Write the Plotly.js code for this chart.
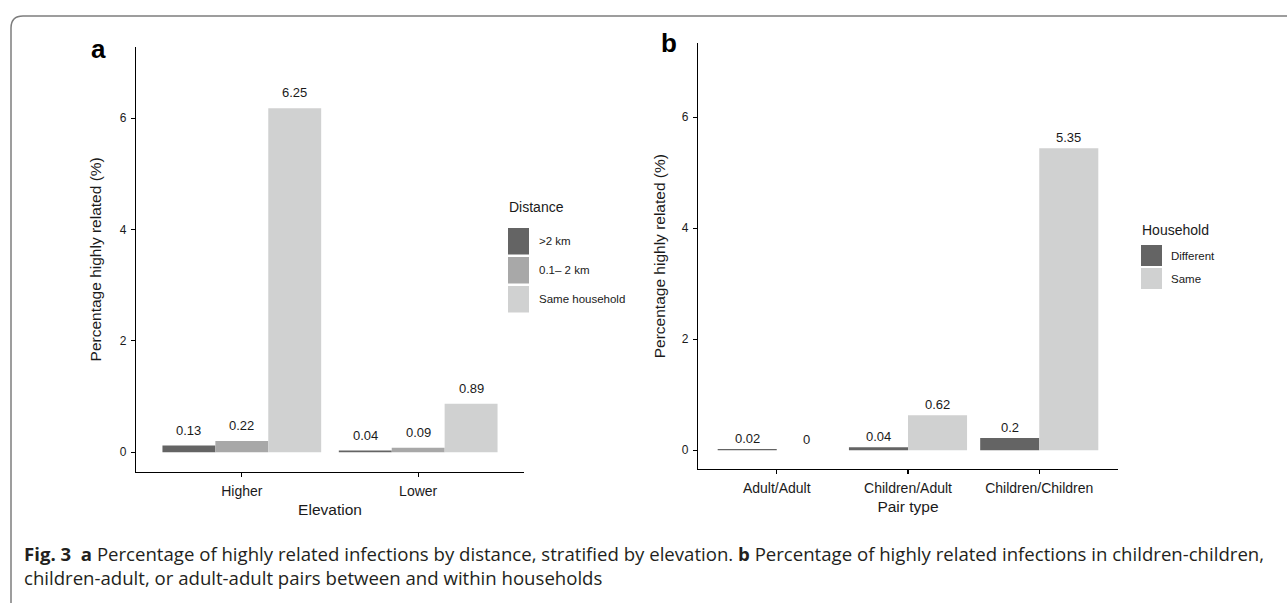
<!DOCTYPE html>
<html>
<head>
<meta charset="utf-8">
<script src="https://cdn.plot.ly/plotly-3.0.1.min.js"></script>
<style>
html,body{margin:0;padding:0;background:#fff;}
#chart{width:1287px;height:603px;}
</style>
</head>
<body>
<div id="chart"></div>
<script>
// ---------- data ----------
const elevationCats = ['Higher', 'Lower'];
const distanceNames = ['>2 km', '0.1\u2013 2 km', 'Same household'];
const farValues = [0.12, 0.03];
const midValues = [0.20, 0.08];
const sameHhValues = [6.18, 0.87];
const farLabels = ['0.13', '0.04'];
const midLabels = ['0.22', '0.09'];
const sameHhLabels = ['6.25', '0.89'];

const pairCats = ['Adult/Adult', 'Children/Adult', 'Children/Children'];
const householdNames = ['Different', 'Same'];
const differentValues = [0.02, 0.05, 0.22];
const sameValues = [0, 0.63, 5.44];
const differentLabels = ['0.02', '0.04', '0.2'];
const sameLabels = ['0', '0.62', '5.35'];

const yTicks = [0, 2, 4, 6];

// ---------- style ----------
const W = 1287, H = 603;
const fx = p => p / W;
const fy = p => 1 - p / H;
const FONT = '"Liberation Sans", Arial, Helvetica, sans-serif';
const colA = ['#646464', '#a8a8a8', '#d0d1d1'];
const colB = ['#646464', '#d0d1d1'];
const textCol = '#1a1a1a';

const seriesA = [farValues, midValues, sameHhValues];
const labelsA = [farLabels, midLabels, sameHhLabels];
const seriesB = [differentValues, sameValues];
const labelsB = [differentLabels, sameLabels];

const traces = [];
seriesA.forEach((vals, i) => {
  traces.push({type: 'bar', x: elevationCats, y: vals, name: distanceNames[i],
    marker: {color: colA[i], line: {width: 0}}, xaxis: 'x', yaxis: 'y',
    showlegend: false, hoverinfo: 'skip'});
});
seriesB.forEach((vals, i) => {
  traces.push({type: 'bar', x: pairCats, y: vals, name: householdNames[i],
    marker: {color: colB[i], line: {width: 0}}, xaxis: 'x2', yaxis: 'y2',
    showlegend: false, hoverinfo: 'skip'});
});

const annotations = [];
// value labels panel a
seriesA.forEach((vals, i) => {
  vals.forEach((v, j) => {
    annotations.push({xref: 'x', yref: 'y', x: j + (i - 1) * 0.3, y: v,
      text: labelsA[i][j], showarrow: false, yanchor: 'middle', yshift: 15.5,
      font: {family: FONT, size: 13, color: textCol}});
  });
});
// value labels panel b
seriesB.forEach((vals, i) => {
  vals.forEach((v, j) => {
    annotations.push({xref: 'x2', yref: 'y2', x: j + (i - 0.5) * 0.45, y: v,
      text: labelsB[i][j], showarrow: false, yanchor: 'middle', yshift: 10.5,
      font: {family: FONT, size: 13, color: textCol}});
  });
});
// panel letters
annotations.push({xref: 'paper', yref: 'paper', x: fx(98), y: fy(49), text: '<b>a</b>',
  showarrow: false, xanchor: 'center', yanchor: 'middle', font: {family: FONT, size: 26, color: '#000'}});
annotations.push({xref: 'paper', yref: 'paper', x: fx(669), y: fy(43), text: '<b>b</b>',
  showarrow: false, xanchor: 'center', yanchor: 'middle', font: {family: FONT, size: 26, color: '#000'}});

const shapes = [];
// custom legends
function legend(title, names, cols, x0, titleY, keyTops, keyH, keyW, labelX) {
  annotations.push({xref: 'paper', yref: 'paper', x: fx(x0 - 1), y: fy(titleY), text: title,
    showarrow: false, xanchor: 'left', yanchor: 'middle', font: {family: FONT, size: 14, color: textCol}});
  names.forEach((n, i) => {
    const t = keyTops[i];
    shapes.push({type: 'rect', xref: 'paper', yref: 'paper', x0: fx(x0), x1: fx(x0 + keyW),
      y0: fy(t + keyH), y1: fy(t), fillcolor: cols[i], line: {width: 0}});
    annotations.push({xref: 'paper', yref: 'paper', x: fx(labelX - 1), y: fy(t + keyH / 2), text: n.replace('>', '&gt;'),
      showarrow: false, xanchor: 'left', yanchor: 'middle', font: {family: FONT, size: 11.5, color: textCol}});
  });
}
legend('Distance', distanceNames, colA, 508, 207, [228, 257, 286], 26.5, 21, 538);
legend('Household', householdNames, colB, 1141, 230, [245, 268], 21, 21, 1170);

// outer frame
const L = fx(11), T = fy(16), R = 1.01, B = -0.02;
shapes.push({type: 'path', xref: 'paper', yref: 'paper',
  path: `M ${L} ${B} L ${L} ${fy(28)} Q ${L} ${T} ${fx(23)} ${T} L ${R} ${T}`,
  line: {color: '#7d7d7d', width: 1.5}});

// caption
const capFont = {family: '"Open Sans", "Noto Sans", sans-serif', size: 18.6, color: '#231f20'};
annotations.push({xref: 'paper', yref: 'paper', x: fx(22), y: fy(553), xanchor: 'left', yanchor: 'middle', showarrow: false,
  text: '<b>Fig. 3</b>  <b>a</b> Percentage of highly related infections by distance, stratified by elevation. <b>b</b> Percentage of highly related infections in children-children,',
  font: capFont});
annotations.push({xref: 'paper', yref: 'paper', x: fx(22), y: fy(577), xanchor: 'left', yanchor: 'middle', showarrow: false,
  text: 'children-adult, or adult-adult pairs between and within households',
  font: capFont});

const axisCommon = {
  showline: true, linecolor: '#000', linewidth: 1.1, mirror: false,
  ticks: 'outside', ticklen: 4, tickwidth: 1.1, tickcolor: '#000',
  showgrid: false, zeroline: false, fixedrange: true
};

const layout = {
  width: W, height: H, margin: {l: 0, r: 0, t: 0, b: 0},
  paper_bgcolor: '#fff', plot_bgcolor: '#fff',
  barmode: 'group', bargap: 0.1, bargroupgap: 0,
  showlegend: false,
  font: {family: FONT, color: textCol},
  xaxis: Object.assign({}, axisCommon, {domain: [fx(136), fx(524)], range: [-0.6, 1.6],
    type: 'category', anchor: 'y', ticklabelstandoff: 2,
    tickfont: {family: FONT, size: 14, color: textCol},
    title: {text: 'Elevation', font: {family: FONT, size: 15.5, color: textCol}, standoff: 6}}),
  yaxis: Object.assign({}, axisCommon, {domain: [fy(471.7), fy(47)], range: [-0.35, 7.28],
    tickvals: yTicks, anchor: 'x', ticklabelstandoff: 2,
    tickfont: {family: FONT, size: 12, color: textCol},
    title: {text: 'Percentage highly related (%)', font: {family: FONT, size: 15.5, color: textCol}, standoff: 14}}),
  xaxis2: Object.assign({}, axisCommon, {domain: [fx(698), fx(1118)], range: [-0.6, 2.6],
    type: 'category', anchor: 'y2', ticklabelstandoff: 2,
    tickfont: {family: FONT, size: 14, color: textCol},
    title: {text: 'Pair type', font: {family: FONT, size: 15.5, color: textCol}, standoff: 6}}),
  yaxis2: Object.assign({}, axisCommon, {domain: [fy(469), fy(43.3)], range: [-0.34, 7.33],
    tickvals: yTicks, anchor: 'x2', ticklabelstandoff: 2,
    tickfont: {family: FONT, size: 12, color: textCol},
    title: {text: 'Percentage highly related (%)', font: {family: FONT, size: 15.5, color: textCol}, standoff: 12}}),
  annotations: annotations,
  shapes: shapes
};

Plotly.newPlot('chart', traces, layout, {displayModeBar: false, staticPlot: true});
</script>
</body>
</html>
